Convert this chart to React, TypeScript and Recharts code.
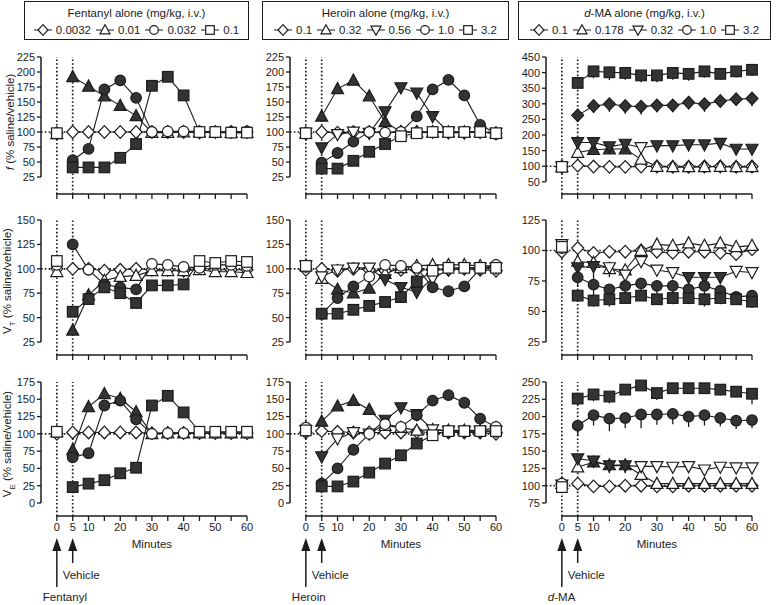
import React from "react";
import { LineChart, Line, XAxis, YAxis, ReferenceLine, ErrorBar } from "recharts";

const minutes = [0, 5, 10, 15, 20, 25, 30, 35, 40, 45, 50, 55, 60];
const xTickLabels = [0, 5, 10, 20, 30, 40, 50, 60];

const fentanylDoses = ["0.0032", "0.01", "0.032", "0.1"];
const heroinDoses = ["0.1", "0.32", "0.56", "1.0", "3.2"];
const dmaDoses = ["0.1", "0.178", "0.32", "1.0", "3.2"];

const fTicks = [25, 50, 75, 100, 125, 150, 175, 200, 225];
const fTicksDma = [50, 100, 150, 200, 250, 300, 350, 400, 450];
const vtTicks = [25, 50, 75, 100, 125, 150];
const vtTicksDma = [25, 50, 75, 100, 125];
const veTicks = [0, 25, 50, 75, 100, 125, 150, 175];
const veTicksDma = [75, 100, 125, 150, 175, 200, 225, 250];

// minutes at which a symbol is filled (significant vs vehicle)
const early5 = [5, 10, 15, 20, 25];
const early8 = [5, 10, 15, 20, 25, 30, 35, 40];
const allPost = [5, 10, 15, 20, 25, 30, 35, 40, 45, 50, 55, 60];

// ---- Fentanyl ----
const fentF1 = [98, 100, 100, 100, 100, 100, 100, 100, 100, 99, 100, 100, 100];
const fentF2 = [97, 192, 176, 160, 144, 127, 99, 99, 100, 100, 99, 99, 99];
const fentF3 = [98, 53, 72, 171, 186, 157, 100, 101, 101, 101, 100, 100, 101];
const fentF4 = [98, 41, 41, 41, 57, 80, 177, 192, 161, 100, 100, 99, 99];

const fentVT1 = [100, 100, 100, 98, 99, 100, 99, 99, 98, 101, 99, 99, 99];
const fentVT2 = [97, 37, 73, 88, 92, 93, 98, 98, 98, 99, 97, 97, 96];
const fentVT3 = [104, 125, 99, 84, 81, 79, 105, 104, 102, 101, 104, 104, 103];
const fentVT4 = [108, 56, 69, 81, 75, 65, 83, 83, 84, 108, 106, 108, 107];

const fentVE1 = [100, 102, 102, 102, 102, 102, 101, 101, 101, 101, 101, 101, 101];
const fentVE2 = [103, 77, 139, 158, 151, 132, 100, 101, 101, 101, 101, 101, 101];
const fentVE3 = [103, 66, 72, 141, 148, 121, 100, 101, 101, 101, 101, 101, 101];
const fentVE4 = [103, 23, 28, 33, 43, 51, 141, 155, 131, 103, 103, 103, 103];

// ---- Heroin ----
const herF1 = [98, 100, 99, 100, 100, 99, 100, 100, 100, 99, 99, 100, 98];
const herF2 = [98, 126, 172, 186, 160, 117, 100, 100, 100, 100, 100, 100, 98];
const herF3 = [98, 74, 96, 100, 98, 134, 174, 165, 126, 100, 99, 100, 98];
const herF4 = [98, 49, 65, 84, 100, 99, 100, 126, 171, 187, 161, 112, 97];
const herF5 = [98, 39, 39, 52, 67, 80, 93, 98, 100, 100, 100, 100, 98];

const herVT1 = [99, 100, 98, 100, 99, 98, 99, 99, 99, 99, 100, 99, 98];
const herVT2 = [103, 90, 79, 75, 80, 95, 101, 103, 104, 104, 104, 103, 103];
const herVT3 = [103, 92, 99, 101, 101, 89, 81, 76, 90, 99, 101, 101, 101];
const herVT4 = [102, 54, 70, 82, 92, 104, 103, 101, 81, 77, 82, 100, 104];
const herVT5 = [103, 54, 54, 58, 62, 66, 71, 87, 98, 101, 101, 101, 101];

const herVE1 = [102, 104, 103, 102, 102, 102, 102, 103, 102, 102, 102, 102, 100];
const herVE2 = [109, 118, 140, 148, 135, 112, 109, 105, 106, 105, 105, 105, 109];
const herVE3 = [105, 67, 93, 102, 100, 120, 138, 128, 106, 104, 104, 104, 104];
const herVE4 = [109, 28, 50, 77, 100, 114, 110, 127, 148, 156, 145, 122, 110];
const herVE5 = [105, 24, 24, 31, 44, 57, 69, 86, 98, 104, 104, 104, 104];

// ---- d-MA ----
const dmaF1 = [98, 102, 99, 98, 98, 99, 99, 98, 98, 99, 99, 98, 99];
const dmaF2 = [98, 144, 153, 155, 155, 122, 99, 98, 98, 98, 99, 98, 98];
const dmaF3 = [98, 176, 176, 163, 171, 160, 166, 166, 169, 169, 174, 155, 155];
const dmaF4 = [98, 263, 293, 299, 293, 291, 295, 295, 304, 299, 309, 315, 317];
const dmaF5 = [98, 367, 404, 401, 399, 391, 391, 399, 396, 404, 396, 404, 409];
const dmaF4Err = [0, 15, 22, 25, 25, 25, 22, 22, 22, 25, 20, 22, 25];
const dmaF5Err = [0, 18, 22, 25, 22, 22, 22, 22, 22, 20, 20, 20, 20];

const dmaVT1 = [99, 102, 98, 99, 99, 100, 99, 98, 99, 99, 98, 97, 101];
const dmaVT2 = [103, 91, 90, 85, 84, 100, 105, 104, 106, 104, 106, 103, 104];
const dmaVT3 = [105, 86, 87, 86, 80, 91, 84, 82, 78, 78, 78, 83, 82];
const dmaVT4 = [102, 78, 72, 68, 71, 73, 71, 71, 68, 71, 67, 62, 63];
const dmaVT5 = [103, 63, 59, 60, 61, 63, 60, 61, 61, 60, 61, 60, 58];
const dmaVT3Err = [0, 0, 14, 8, 8, 0, 0, 0, 0, 0, 0, 0, 0];
const dmaVT4Err = [0, 8, 10, 8, 8, 10, 8, 8, 8, 8, 8, 5, 5];
const dmaVT5Err = [0, 5, 5, 6, 4, 4, 4, 5, 5, 6, 5, 4, 5];

const dmaVE1 = [103, 103, 99, 99, 100, 100, 99, 99, 100, 100, 100, 100, 100];
const dmaVE2 = [103, 127, 134, 130, 130, 116, 103, 103, 103, 103, 103, 103, 103];
const dmaVE3 = [101, 139, 136, 129, 129, 128, 128, 127, 128, 123, 127, 126, 126];
const dmaVE4 = [103, 187, 202, 197, 198, 203, 203, 204, 200, 202, 198, 194, 195];
const dmaVE5 = [98, 226, 232, 229, 239, 245, 234, 241, 241, 241, 239, 236, 233];
const dmaVE2Err = [0, 0, 8, 12, 12, 0, 0, 0, 0, 0, 0, 0, 0];
const dmaVE4Err = [0, 15, 15, 18, 15, 20, 15, 15, 15, 15, 12, 12, 12];
const dmaVE5Err = [0, 10, 10, 10, 8, 8, 10, 8, 8, 8, 8, 8, 15];

type Shape = "diamond" | "triangle" | "triangleDown" | "circle" | "square";
type Series = { values: number[]; sig: number[]; err?: number[] };

const INK = "#1c1c1c";
const FILL = "#333333";
const FONT = "'Liberation Sans', Arial, sans-serif";
const PLOT_W = 206;
const COL_LEFT = [41, 290, 546];
const ROWS = [
  { top: 57, h: 137 },
  { top: 220, h: 135 },
  { top: 382, h: 134 },
];

const fentShapes: Shape[] = ["diamond", "triangle", "circle", "square"];
const fiveShapes: Shape[] = ["diamond", "triangle", "triangleDown", "circle", "square"];
const dmaFShapes: Shape[] = ["diamond", "triangle", "triangleDown", "diamond", "square"];

function Marker({ cx, cy, shape, filled, r = 6 }: { cx: number; cy: number; shape: Shape; filled: boolean; r?: number }) {
  const p = { fill: filled ? FILL : "#fff", stroke: INK, strokeWidth: 1.2 };
  if (shape === "circle") return <circle cx={cx} cy={cy} r={r - 0.7} {...p} />;
  if (shape === "square") return <rect x={cx - r + 0.7} y={cy - r + 0.7} width={2 * r - 1.4} height={2 * r - 1.4} {...p} />;
  if (shape === "diamond")
    return <polygon points={`${cx},${cy - r - 0.3} ${cx + r},${cy} ${cx},${cy + r + 0.3} ${cx - r},${cy}`} {...p} />;
  if (shape === "triangle")
    return <polygon points={`${cx},${cy - r - 0.3} ${cx + r},${cy + r - 1.2} ${cx - r},${cy + r - 1.2}`} {...p} />;
  return <polygon points={`${cx - r},${cy - r + 1.2} ${cx + r},${cy - r + 1.2} ${cx},${cy + r + 0.3}`} {...p} />;
}

function buildRows(series: Series[]) {
  return minutes.map((t, i) => {
    const row: Record<string, any> = { t };
    series.forEach((s, k) => {
      if (t === 0) row[`b${k}`] = s.values[i];
      else row[`v${k}`] = s.values[i];
      if (s.err && t !== 0) row[`e${k}`] = [s.err[i], 0];
    });
    return row;
  });
}

function XTick(props: any) {
  const { x, y, payload, show } = props;
  if (!show || !xTickLabels.includes(payload.value)) return <g />;
  return (
    <text x={x} y={y} dy="0.71em" textAnchor="middle" fill={INK} fontSize={11} fontFamily={FONT}>
      {payload.value}
    </text>
  );
}

function YTick(props: any) {
  const { x, y, payload } = props;
  return (
    <text x={x} y={y} dy="0.355em" textAnchor="end" fill={INK} fontSize={11} fontFamily={FONT}>
      {payload.value}
    </text>
  );
}

function Panel({
  col,
  row,
  series,
  shapes,
  domain,
  ticks,
  labels,
}: {
  col: number;
  row: number;
  series: Series[];
  shapes: Shape[];
  domain: [number, number];
  ticks: number[];
  labels: boolean;
}) {
  const { top, h } = ROWS[row];
  const left = COL_LEFT[col];
  const data = buildRows(series);
  const dotted = { stroke: INK, strokeDasharray: "1.6 2.2", strokeWidth: 1.7 };
  return (
    <div style={{ position: "absolute", left: left - 40, top: top - 6 }}>
      <LineChart
        width={40 + PLOT_W + 10}
        height={6 + h + 24}
        data={data}
        margin={{ top: 6, right: 10, bottom: 0, left: 0 }}
        style={{ fontFamily: FONT }}
      >
        <XAxis
          dataKey="t"
          type="number"
          domain={[-5, 60]}
          ticks={minutes}
          interval={0}
          axisLine={false}
          tickLine={{ stroke: INK, strokeWidth: 1.3 }}
          tickSize={5}
          height={24}
          tick={<XTick show={labels} />}
        />
        <YAxis
          type="number"
          domain={domain}
          ticks={ticks}
          interval={0}
          axisLine={false}
          tickLine={{ stroke: INK, strokeWidth: 1.3 }}
          tickSize={4}
          width={40}
          tick={<YTick />}
        />
        <ReferenceLine y={100} {...dotted} />
        <ReferenceLine x={0} {...dotted} />
        <ReferenceLine x={5} {...dotted} />
        <ReferenceLine
          segment={[{ x: -5, y: ticks[0] }, { x: -5, y: ticks[ticks.length - 1] }]}
          stroke={INK}
          strokeWidth={1.5}
          ifOverflow="visible"
        />
        <ReferenceLine
          segment={[{ x: 0, y: domain[0] }, { x: 60, y: domain[0] }]}
          stroke={INK}
          strokeWidth={1.5}
          ifOverflow="visible"
        />
        {series.map((s, k) => (
          <Line
            key={`b${k}`}
            dataKey={`b${k}`}
            stroke="none"
            isAnimationActive={false}
            activeDot={false}
            dot={(p: any) =>
              p.cx == null || p.cy == null || p.value == null ? (
                <g key={`bd${k}-${p.index}`} />
              ) : (
                <Marker key={`bd${k}-${p.index}`} cx={p.cx} cy={p.cy} shape={shapes[k]} filled={false} />
              )
            }
          />
        ))}
        {series.map((s, k) => (
          <Line
            key={`v${k}`}
            dataKey={`v${k}`}
            type="linear"
            stroke={INK}
            strokeWidth={1.1}
            isAnimationActive={false}
            activeDot={false}
            dot={(p: any) =>
              p.cx == null || p.cy == null || p.value == null ? (
                <g key={`vd${k}-${p.index}`} />
              ) : (
                <Marker
                  key={`vd${k}-${p.index}`}
                  cx={p.cx}
                  cy={p.cy}
                  shape={shapes[k]}
                  filled={s.sig.includes(p.payload.t)}
                />
              )
            }
          >
            {s.err ? (
              <ErrorBar dataKey={`e${k}`} direction="y" width={0} stroke={INK} strokeWidth={1.3} />
            ) : null}
          </Line>
        ))}
      </LineChart>
    </div>
  );
}

function LegendBox({
  left,
  width,
  title,
  doses,
  shapes,
}: {
  left: number;
  width: number;
  title: React.ReactNode;
  doses: string[];
  shapes: Shape[];
}) {
  return (
    <div
      style={{
        position: "absolute",
        left,
        top: 1,
        width,
        height: 39,
        boxSizing: "border-box",
        border: `1.5px solid ${INK}`,
        fontFamily: FONT,
        fontSize: 11.5,
        color: INK,
      }}
    >
      <div style={{ textAlign: "center", marginTop: 4, lineHeight: "14px" }}>{title}</div>
      <div
        style={{
          display: "flex",
          justifyContent: "center",
          alignItems: "center",
          gap: 5,
          marginTop: 3,
          lineHeight: "14px",
        }}
      >
        {doses.map((d, i) => (
          <span key={d} style={{ display: "inline-flex", alignItems: "center", gap: 4 }}>
            <svg width={18} height={12}>
              <line x1={0} y1={6} x2={18} y2={6} stroke={INK} strokeWidth={1} />
              <Marker cx={9} cy={6} shape={shapes[i]} filled={false} r={5} />
            </svg>
            <span>{d}</span>
          </span>
        ))}
      </div>
    </div>
  );
}

const xOf = (col: number, t: number) => COL_LEFT[col] + ((t + 5) / 65) * PLOT_W;

export default function App() {
  const fent = [fentF1, fentF2, fentF3, fentF4];
  const fentSig = [[], early5, early5, early8];
  const drugNames: React.ReactNode[] = ["Fentanyl", "Heroin", <><i>d</i>-MA</>];

  return (
    <div
      style={{
        position: "absolute",
        left: 0,
        top: 0,
        width: 776,
        height: 605,
        background: "#fff",
        fontFamily: FONT,
        color: INK,
        overflow: "hidden",
      }}
    >
      <LegendBox left={24} width={225} title="Fentanyl alone (mg/kg, i.v.)" doses={fentanylDoses} shapes={fentShapes} />
      <LegendBox left={262} width={247} title="Heroin alone (mg/kg, i.v.)" doses={heroinDoses} shapes={fiveShapes} />
      <LegendBox
        left={518}
        width={253}
        title={
          <>
            <i>d</i>-MA alone (mg/kg, i.v.)
          </>
        }
        doses={dmaDoses}
        shapes={fiveShapes}
      />

      {/* Fentanyl column */}
      <Panel
        col={0}
        row={0}
        shapes={fentShapes}
        domain={[-3.3, 225]}
        ticks={fTicks}
        labels={false}
        series={fent.map((v, i) => ({ values: v, sig: fentSig[i] }))}
      />
      <Panel
        col={0}
        row={1}
        shapes={fentShapes}
        domain={[11.7, 150]}
        ticks={vtTicks}
        labels={false}
        series={[
          { values: fentVT1, sig: [] },
          { values: fentVT2, sig: [5, 10] },
          { values: fentVT3, sig: [5, 15, 20, 25] },
          { values: fentVT4, sig: early8 },
        ]}
      />
      <Panel
        col={0}
        row={2}
        shapes={fentShapes}
        domain={[-18.8, 175]}
        ticks={veTicks}
        labels={true}
        series={[
          { values: fentVE1, sig: [] },
          { values: fentVE2, sig: early5 },
          { values: fentVE3, sig: early5 },
          { values: fentVE4, sig: early8 },
        ]}
      />

      {/* Heroin column */}
      <Panel
        col={1}
        row={0}
        shapes={fiveShapes}
        domain={[-3.3, 225]}
        ticks={fTicks}
        labels={false}
        series={[
          { values: herF1, sig: [] },
          { values: herF2, sig: early5 },
          { values: herF3, sig: [5, 25, 30, 35, 40] },
          { values: herF4, sig: [5, 10, 15, 35, 40, 45, 50, 55] },
          { values: herF5, sig: early5 },
        ]}
      />
      <Panel
        col={1}
        row={1}
        shapes={fiveShapes}
        domain={[11.7, 150]}
        ticks={vtTicks}
        labels={false}
        series={[
          { values: herVT1, sig: [] },
          { values: herVT2, sig: [10, 15, 20] },
          { values: herVT3, sig: [25, 30, 35] },
          { values: herVT4, sig: [5, 10, 15, 40, 45, 50] },
          { values: herVT5, sig: [5, 10, 15, 20, 25, 30, 35] },
        ]}
      />
      <Panel
        col={1}
        row={2}
        shapes={fiveShapes}
        domain={[-18.8, 175]}
        ticks={veTicks}
        labels={true}
        series={[
          { values: herVE1, sig: [] },
          { values: herVE2, sig: [5, 10, 15, 20] },
          { values: herVE3, sig: [5, 25, 30, 35] },
          { values: herVE4, sig: [5, 10, 15, 35, 40, 45, 50, 55] },
          { values: herVE5, sig: [5, 10, 15, 20, 25, 30, 35] },
        ]}
      />

      {/* d-MA column */}
      <Panel
        col={2}
        row={0}
        shapes={dmaFShapes}
        domain={[11, 450]}
        ticks={fTicksDma}
        labels={false}
        series={[
          { values: dmaF1, sig: [] },
          { values: dmaF2, sig: [10, 15, 20] },
          { values: dmaF3, sig: [5, 10, 15, 20, 30, 35, 40, 45, 50, 55, 60] },
          { values: dmaF4, sig: allPost, err: dmaF4Err },
          { values: dmaF5, sig: allPost, err: dmaF5Err },
        ]}
      />
      <Panel
        col={2}
        row={1}
        shapes={fiveShapes}
        domain={[14.3, 125]}
        ticks={vtTicksDma}
        labels={false}
        series={[
          { values: dmaVT1, sig: [] },
          { values: dmaVT2, sig: [] },
          { values: dmaVT3, sig: [5, 10, 40, 45, 50], err: dmaVT3Err },
          { values: dmaVT4, sig: allPost, err: dmaVT4Err },
          { values: dmaVT5, sig: allPost, err: dmaVT5Err },
        ]}
      />
      <Panel
        col={2}
        row={2}
        shapes={fiveShapes}
        domain={[56.2, 250]}
        ticks={veTicksDma}
        labels={true}
        series={[
          { values: dmaVE1, sig: [] },
          { values: dmaVE2, sig: [10, 15, 20], err: dmaVE2Err },
          { values: dmaVE3, sig: [5, 10, 15, 20] },
          { values: dmaVE4, sig: allPost, err: dmaVE4Err },
          { values: dmaVE5, sig: allPost, err: dmaVE5Err },
        ]}
      />

      {/* y-axis titles */}
      {[
        { y: 122, node: <><i>f</i> (% saline/vehicle)</> },
        { y: 281, node: <>V<sub style={{ fontSize: 8 }}>T</sub> (% saline/vehicle)</> },
        { y: 444, node: <>V<sub style={{ fontSize: 8 }}>E</sub> (% saline/vehicle)</> },
      ].map((l, i) => (
        <div
          key={i}
          style={{
            position: "absolute",
            left: 10,
            top: l.y,
            transform: "translate(-50%, -50%) rotate(-90deg)",
            whiteSpace: "nowrap",
            fontSize: 11.5,
            lineHeight: "13px",
          }}
        >
          {l.node}
        </div>
      ))}

      {/* injection arrows */}
      <svg width={776} height={605} style={{ position: "absolute", left: 0, top: 0, pointerEvents: "none" }}>
        {[0, 1, 2].map((c) => {
          const x0 = xOf(c, 0);
          const x5 = xOf(c, 5);
          return (
            <g key={c}>
              <polygon points={`${x0},538 ${x0 + 4.5},551 ${x0 - 4.5},551`} fill={INK} />
              <line x1={x0} y1={550} x2={x0} y2={587} stroke={INK} strokeWidth={1.5} />
              <polygon points={`${x5},538 ${x5 + 4.5},551 ${x5 - 4.5},551`} fill={INK} />
              <line x1={x5} y1={550} x2={x5} y2={563} stroke={INK} strokeWidth={1.5} />
            </g>
          );
        })}
      </svg>

      {[0, 1, 2].map((c) => (
        <React.Fragment key={c}>
          <div
            style={{
              position: "absolute",
              left: xOf(c, 30) - 40,
              width: 80,
              top: 538,
              textAlign: "center",
              fontSize: 11.5,
            }}
          >
            Minutes
          </div>
          <div style={{ position: "absolute", left: xOf(c, 5) - 10, top: 569, fontSize: 11.5 }}>Vehicle</div>
          <div style={{ position: "absolute", left: xOf(c, 0) - 14, top: 591, fontSize: 11.5 }}>{drugNames[c]}</div>
        </React.Fragment>
      ))}
    </div>
  );
}
